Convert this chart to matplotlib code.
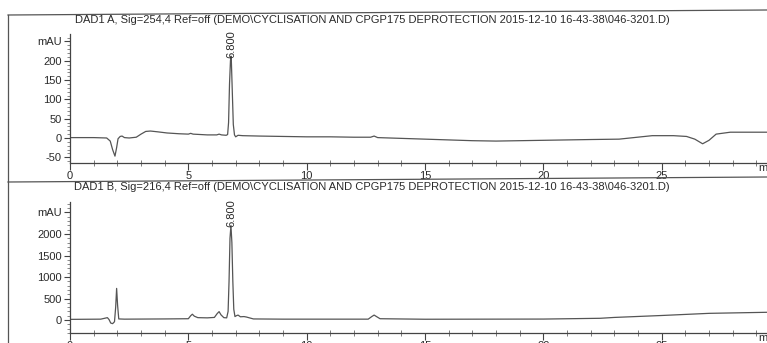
import matplotlib.pyplot as plt
from matplotlib.lines import Line2D
from matplotlib.ticker import MultipleLocator, FixedLocator, FixedFormatter

plt.rcParams['font.family'] = ['Liberation Sans', 'DejaVu Sans']

# --- signal A (254 nm)
time_a = [0.0, 1.0, 1.55, 1.70, 1.80, 1.90, 1.97, 2.03, 2.12, 2.20, 2.30, 2.50, 2.80,
          3.00, 3.20, 3.40, 3.70, 4.10, 4.60, 5.00, 5.10, 5.20, 5.80, 6.20, 6.30, 6.40,
          6.60, 6.66, 6.70, 6.74, 6.78, 6.80, 6.82, 6.86, 6.90, 6.95, 7.00, 7.10, 7.30,
          8.0, 9.0, 10.0, 11.0, 12.0, 12.7, 12.85, 13.0, 14.0, 15.0, 16.0, 17.0, 18.0,
          19.0, 20.0, 21.0, 22.0, 23.2, 24.6, 25.5, 26.05, 26.4, 26.73, 27.0, 27.3,
          27.9, 28.5, 29.5]
signal_a = [1, 1, 0, -8, -30, -47, -25, -2, 4, 5, 1, 0, 2,
            10, 17, 18, 16, 13, 11, 10, 12, 10, 8, 8, 10, 8,
            7, 9, 40, 140, 200, 212, 195, 115, 35, 8, 3, 7, 6,
            5, 4, 3, 3, 2, 2, 5, 1, -1, -3, -5, -7, -8,
            -7, -6, -5, -4, -3, 6, 6, 4, -3, -15, -6, 10,
            15, 15, 15]

# --- signal B (216 nm)
time_b = [0.0, 1.3, 1.50, 1.58, 1.65, 1.72, 1.80, 1.88, 1.93, 1.97, 2.01, 2.06, 2.3,
          3.0, 4.0, 5.0, 5.10, 5.17, 5.25, 5.40, 5.80, 6.10, 6.22, 6.30, 6.38, 6.50,
          6.62, 6.68, 6.72, 6.76, 6.80, 6.84, 6.88, 6.92, 6.97, 7.03, 7.10, 7.20, 7.35,
          7.45, 7.75, 9.0, 12.6, 12.75, 12.85, 12.95, 13.1, 15.0, 20.0, 22.4, 23.0,
          25.0, 27.0, 29.5]
signal_b = [15, 20, 45, 55, 10, -70, -85, -40, 300, 735, 350, 25, 20,
            22, 25, 30, 100, 135, 90, 55, 50, 60, 150, 195, 120, 55,
            50, 200, 900, 1900, 2200, 1800, 900, 250, 80, 100, 115, 75, 80,
            70, 25, 20, 20, 80, 115, 80, 30, 18, 22, 40, 60,
            105, 155, 180]

peak_rt = 6.800
titles = [
    r"DAD1 A, Sig=254,4 Ref=off (DEMO\CYCLISATION AND CPGP175 DEPROTECTION 2015-12-10 16-43-38\046-3201.D)",
    r"DAD1 B, Sig=216,4 Ref=off (DEMO\CYCLISATION AND CPGP175 DEPROTECTION 2015-12-10 16-43-38\046-3201.D)",
]
yticks_a = [-50, 0, 50, 100, 150, 200, 250]
yticks_b = [0, 500, 1000, 1500, 2000, 2500]

ink = '#2a2a2a'
trace = '#555555'

fig = plt.figure(figsize=(7.67, 3.43), dpi=100)
W, H = 767, 343


def box(x0, y_top, x1, y_bot):
    # pixel box (top-left origin) -> figure fraction rect
    return [x0 / W, 1 - y_bot / H, (x1 - x0) / W, (y_bot - y_top) / H]


ax1 = fig.add_axes(box(70, 34, 767, 163))
ax2 = fig.add_axes(box(70, 202, 767, 333))

panels = [
    (ax1, time_a, signal_a, (-64.8, 269.4), yticks_a, 10, 207),
    (ax2, time_b, signal_b, (-302, 2744), yticks_b, 100, 2165),
]

for ax, t, s, ylim, yt, minor, lab_y in panels:
    ax.plot(t, s, color=trace, lw=0.9)
    ax.set_xlim(0, 29.45)
    ax.set_ylim(*ylim)
    for sp in ['top', 'right']:
        ax.spines[sp].set_visible(False)
    for sp in ['left', 'bottom']:
        ax.spines[sp].set_color('#444444')
        ax.spines[sp].set_linewidth(0.9)
    ax.yaxis.set_major_locator(FixedLocator(yt))
    ax.yaxis.set_major_formatter(FixedFormatter([str(v) for v in yt[:-1]] + ['mAU']))
    ax.yaxis.set_minor_locator(MultipleLocator(minor))
    ax.xaxis.set_major_locator(MultipleLocator(5))
    ax.xaxis.set_minor_locator(MultipleLocator(1))
    ax.tick_params(axis='y', which='major', direction='out', length=4, width=0.8,
                   pad=2, labelsize=8, colors='#444444', labelcolor=ink)
    ax.tick_params(axis='y', which='minor', direction='out', length=2, width=0.6,
                   colors='#777777')
    ax.tick_params(axis='x', which='major', direction='out', length=5, width=0.8,
                   pad=1, labelsize=8, colors='#444444', labelcolor=ink)
    ax.tick_params(axis='x', which='minor', direction='inout', length=4, width=0.6,
                   colors='#666666')
    ax.text(peak_rt, lab_y, f"{peak_rt:.3f}", rotation=90, ha='center', va='bottom',
            fontsize=8, color=ink)
    # axis unit, cut at the page edge as on the scanned report
    ax.text(29.1, 0, "min", transform=ax.get_xaxis_transform(), ha='left', va='top',
            fontsize=8, color=ink)

fig.text(372 / W, 1 - 20 / H, titles[0], ha='center', va='center', fontsize=8.05, color=ink)
fig.text(372 / W, 1 - 187 / H, titles[1], ha='center', va='center', fontsize=8.05, color=ink)

# report frame lines (scan is slightly tilted)
for x0, y0, x1, y1 in [(8, 15, 767, 10), (8, 15, 8, 343), (8, 182, 767, 177)]:
    fig.add_artist(Line2D([x0 / W, x1 / W], [1 - y0 / H, 1 - y1 / H],
                          transform=fig.transFigure, color='#555555', lw=0.9))

fig.savefig('out.png', dpi=100)
